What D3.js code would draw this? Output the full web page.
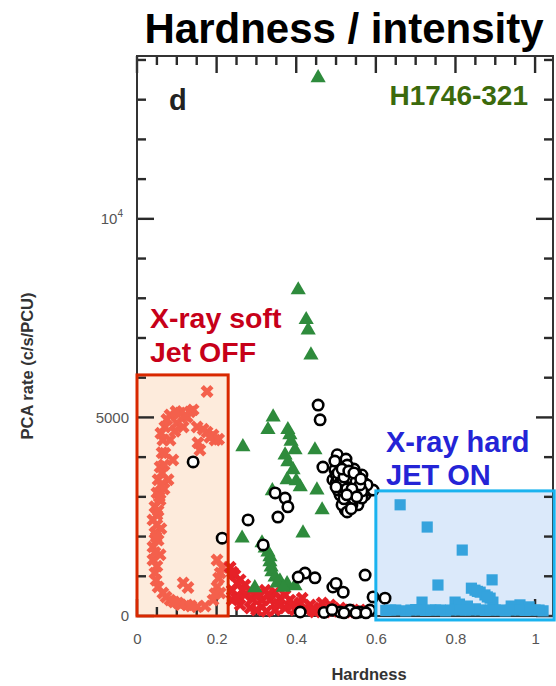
<!DOCTYPE html>
<html>
<head>
<meta charset="utf-8">
<title>Hardness / intensity</title>
<script src="https://cdn.jsdelivr.net/npm/d3@7"></script>
<style>
  body { margin: 0; background: #fff; font-family: "Liberation Sans", Arial, sans-serif; }
</style>
</head>
<body>
<div id="chart"></div>
<script>
// [hardness, PCA rate]
const softState = [
  [0.176, 5650], [0.141, 5190], [0.083, 5060], [0.108, 5110], [0.133, 5140],
  [0.151, 4760], [0.176, 4630], [0.191, 4560], [0.196, 4430], [0.070, 4760],
  [0.065, 4430], [0.063, 4110], [0.058, 3750], [0.053, 3430], [0.050, 3100],
  [0.045, 2750], [0.040, 2420], [0.045, 2090], [0.040, 1740], [0.040, 1410],
  [0.045, 1080], [0.053, 730], [0.065, 580], [0.083, 400], [0.103, 330],
  [0.126, 280], [0.151, 230], [0.116, 830], [0.158, 4180], [0.153, 4360],
  [0.083, 4430], [0.090, 3930], [0.078, 3430], [0.100, 4860], [0.116, 4760],
  [0.126, 5010], [0.201, 1410], [0.209, 1080], [0.201, 730], [0.191, 400],
  [0.209, 580], [0.214, 1230], [0.058, 2920], [0.050, 2540], [0.053, 1910],
  [0.058, 1540], [0.068, 3200], [0.060, 2200], [0.095, 4650], [0.110, 280],
  [0.075, 4950], [0.070, 4100], [0.068, 3800], [0.063, 3600], [0.060, 3300],
  [0.056, 3000], [0.053, 2650], [0.050, 2300], [0.048, 1990], [0.045, 1600],
  [0.050, 1250], [0.048, 900], [0.073, 480], [0.093, 350], [0.136, 250],
  [0.120, 5050], [0.166, 4700], [0.183, 4500], [0.205, 4450], [0.205, 950],
  [0.196, 560], [0.171, 250], [0.128, 720], [0.060, 4600], [0.098, 5150]
];
const intermediateSoft = [
  [0.234, 1230], [0.246, 1030], [0.259, 910], [0.271, 780], [0.284, 650],
  [0.296, 530], [0.314, 400], [0.334, 400], [0.359, 450], [0.384, 400],
  [0.410, 330], [0.435, 280], [0.460, 200], [0.485, 280], [0.510, 200],
  [0.535, 150], [0.560, 150], [0.239, 650], [0.239, 400], [0.259, 280],
  [0.284, 200], [0.314, 230], [0.347, 150], [0.372, 200], [0.397, 150],
  [0.422, 200], [0.447, 100], [0.472, 100], [0.497, 150], [0.523, 100],
  [0.548, 100], [0.322, 650], [0.347, 600], [0.372, 530], [0.271, 530],
  [0.240, 1100], [0.252, 820], [0.265, 650], [0.290, 430], [0.305, 550],
  [0.330, 550], [0.355, 300], [0.390, 270], [0.415, 450], [0.440, 150],
  [0.465, 330], [0.490, 120], [0.250, 450], [0.300, 150], [0.325, 120]
];
const intermediateHard = [
  [0.455, 13550], [0.405, 8210], [0.425, 7460], [0.430, 7200], [0.437, 6570],
  [0.342, 5010], [0.329, 4690], [0.379, 4690], [0.384, 4560], [0.266, 4260],
  [0.397, 4180], [0.447, 4180], [0.379, 3880], [0.392, 3680], [0.377, 3430],
  [0.410, 3250], [0.452, 3170], [0.465, 2670], [0.264, 1960], [0.417, 2090],
  [0.314, 1840], [0.322, 1710], [0.329, 1610], [0.334, 1490], [0.334, 1360],
  [0.337, 1230], [0.339, 1110], [0.347, 980], [0.359, 880], [0.377, 810],
  [0.397, 760], [0.296, 710], [0.387, 4400], [0.372, 4050], [0.400, 3400],
  [0.352, 830], [0.368, 720], [0.340, 3150]
];
const otherEpochs = [
  [0.455, 5310], [0.460, 4940], [0.503, 4060], [0.467, 3750], [0.518, 3850],
  [0.497, 3680], [0.510, 3480], [0.523, 3300], [0.535, 3170], [0.548, 3430],
  [0.560, 3220], [0.530, 2920], [0.540, 3050], [0.510, 3050], [0.573, 3050],
  [0.555, 2800], [0.523, 2670], [0.505, 3170], [0.535, 3680], [0.492, 3430],
  [0.565, 3550], [0.585, 3170], [0.515, 2800], [0.347, 3100], [0.372, 2970],
  [0.379, 2750], [0.354, 2490], [0.279, 2420], [0.528, 2620], [0.565, 2970],
  [0.593, 3170], [0.422, 1080], [0.447, 960], [0.573, 1030], [0.492, 730],
  [0.518, 600], [0.593, 480], [0.623, 450], [0.141, 3880], [0.214, 1960],
  [0.317, 1790], [0.405, 980], [0.510, 100], [0.535, 150], [0.560, 100],
  [0.585, 150], [0.410, 100], [0.540, 3400], [0.520, 3600], [0.528, 3550],
  [0.545, 3300], [0.553, 3100], [0.518, 3150], [0.500, 3350], [0.512, 3750],
  [0.550, 3580], [0.570, 3350], [0.540, 2800], [0.500, 3550], [0.497, 3900],
  [0.525, 3950], [0.578, 3300], [0.545, 3700], [0.500, 820], [0.520, 80],
  [0.550, 80], [0.575, 80], [0.470, 90], [0.490, 160],
  [0.505, 3450], [0.515, 3250], [0.525, 3450], [0.535, 3350], [0.545, 3500],
  [0.555, 3250], [0.530, 3100], [0.520, 2950], [0.545, 2950], [0.558, 3400],
  [0.512, 3600], [0.535, 3550], [0.525, 3700], [0.505, 3600], [0.532, 3250],
  [0.548, 3150], [0.510, 3350], [0.565, 3150], [0.538, 2700], [0.528, 3800],
  [0.507, 3300], [0.517, 3400], [0.527, 3200], [0.537, 3480], [0.550, 3380],
  [0.560, 3300], [0.520, 3500], [0.540, 3200], [0.552, 3000], [0.515, 3700],
  [0.532, 3650], [0.545, 3600], [0.500, 3250], [0.527, 3050], [0.562, 3450]
];
const hardState = [
  [0.661, 2800], [0.729, 2240], [0.817, 1660], [0.892, 910], [0.756, 780],
  [0.716, 350], [0.849, 650], [0.862, 600], [0.874, 530], [0.887, 450],
  [0.894, 350], [0.799, 350], [0.962, 280], [0.625, 140], [0.650, 150],
  [0.675, 130], [0.700, 160], [0.725, 140], [0.750, 150], [0.775, 130],
  [0.800, 170], [0.825, 150], [0.850, 180], [0.875, 140], [0.900, 150],
  [0.925, 130], [0.950, 160], [0.975, 140], [1.000, 150], [1.020, 130],
  [0.840, 700], [0.855, 620], [0.880, 480], [0.810, 300], [0.830, 250],
  [0.940, 250], [0.985, 230], [0.637, 150], [0.688, 150], [0.712, 150],
  [0.738, 150], [0.762, 150], [0.788, 150], [0.812, 150], [0.838, 150],
  [0.862, 150], [0.888, 150], [0.912, 150], [0.938, 150], [0.962, 150],
  [0.988, 150], [1.010, 150]
];
// boxes: [h0, h1, r0, r1]
const softBox = [0, 0.229, 0, 6070];
const hardBox = [0.600, 1.048, -100, 3150];

const xMajor = [0, 0.2, 0.4, 0.6, 0.8, 1];
const xMinor = [0.05, 0.1, 0.15, 0.25, 0.3, 0.35, 0.45, 0.5, 0.55, 0.65, 0.7, 0.75, 0.85, 0.9, 0.95];
const yMajor = [0, 5000, 10000];
const yMinor = [1000, 2000, 3000, 4000, 6000, 7000, 8000, 9000, 11000, 12000, 13000, 14000];

const width = 556, height = 686;
const margin = { top: 56, right: 3, bottom: 70, left: 137 };

const svg = d3.select("#chart").append("svg")
  .attr("width", width).attr("height", height);

const x = d3.scaleLinear().domain([0, 1.045]).range([margin.left, width - margin.right]);
const y = d3.scaleLinear().domain([0, 14100]).range([height - margin.bottom, margin.top]);

function boxRect(g, b) {
  return g.append("rect")
    .attr("x", x(b[0])).attr("y", y(b[3]))
    .attr("width", x(b[1]) - x(b[0])).attr("height", y(b[2]) - y(b[3]));
}

function styleAxis(g) {
  g.select(".domain").remove();
  g.selectAll(".tick line").remove();
  g.selectAll(".tick text").attr("fill", "#555").attr("font-size", 15)
    .attr("font-family", "'Liberation Sans', Arial, sans-serif");
}

// box fills behind everything
boxRect(svg, softBox).attr("fill", "#fdebdc");
boxRect(svg, hardBox).attr("fill", "#dbe9fa");

const yBottom = y(0), yTop = y(14100), xLeft = x(0), xRight = x(1.045);

// tick marks as small filled bars, pointing inward on all four sides
const tw = 2.4;
const xTicks = [
  ...xMajor.map(v => ({ v, len: 17 })),
  ...xMinor.map(v => ({ v, len: 9 }))
];
const yTicks = [
  ...yMajor.map(v => ({ v, len: 17 })),
  ...yMinor.map(v => ({ v, len: 9 }))
];
const tickG = svg.append("g").attr("fill", "#2a2a2a");
tickG.selectAll("rect.xb").data(xTicks).join("rect").attr("class", "xb")
  .attr("x", d => x(d.v) - tw / 2).attr("y", d => yBottom - d.len)
  .attr("width", tw).attr("height", d => d.len);
tickG.selectAll("rect.xt").data(xTicks).join("rect").attr("class", "xt")
  .attr("x", d => x(d.v) - tw / 2).attr("y", yTop)
  .attr("width", tw).attr("height", d => d.len);
tickG.selectAll("rect.yl").data(yTicks).join("rect").attr("class", "yl")
  .attr("x", xLeft).attr("y", d => y(d.v) - tw / 2)
  .attr("width", d => d.len).attr("height", tw);
tickG.selectAll("rect.yr").data(yTicks).join("rect").attr("class", "yr")
  .attr("x", d => xRight - d.len).attr("y", d => y(d.v) - tw / 2)
  .attr("width", d => d.len).attr("height", tw);

// tick labels
svg.append("g").attr("transform", `translate(0,${yBottom})`)
  .call(d3.axisBottom(x).tickValues(xMajor).tickSize(0).tickPadding(17)
    .tickFormat(d => d3.format("")(d)))
  .call(styleAxis);
const yAxis = svg.append("g").attr("transform", `translate(${xLeft},0)`)
  .call(d3.axisLeft(y).tickValues(yMajor).tickSize(0).tickPadding(8)
    .tickFormat(d => d === 10000 ? "10" : d))
  .call(styleAxis);
yAxis.selectAll(".tick").filter(d => d === 10000).select("text")
  .attr("dx", "-6px")
  .append("tspan").attr("dy", "-7").attr("font-size", "10px").text("4");

svg.append("rect")
  .attr("x", xLeft).attr("y", yTop)
  .attr("width", xRight - xLeft).attr("height", yBottom - yTop)
  .attr("fill", "none").attr("stroke", "#333").attr("stroke-width", 2);

// markers
const cross = d3.symbol(d3.symbolCross, 105);
const tri = d3.symbol(d3.symbolTriangle, 100);
const square = d3.symbol(d3.symbolSquare, 125);

svg.append("g").selectAll("path").data(softState).join("path")
  .attr("d", cross)
  .attr("transform", d => `translate(${x(d[0])},${y(d[1])}) rotate(45)`)
  .attr("fill", "#f4604c");

svg.append("g").selectAll("path").data(intermediateSoft).join("path")
  .attr("d", cross)
  .attr("transform", d => `translate(${x(d[0])},${y(d[1])}) rotate(45)`)
  .attr("fill", "#e62128");

svg.append("g").selectAll("path").data(intermediateHard).join("path")
  .attr("d", tri)
  .attr("transform", d => `translate(${x(d[0])},${y(d[1])})`)
  .attr("fill", "#2e8b3c");

svg.append("g").selectAll("circle").data(otherEpochs).join("circle")
  .attr("cx", d => x(d[0])).attr("cy", d => y(d[1])).attr("r", 5.2)
  .attr("fill", "#fff").attr("stroke", "#000").attr("stroke-width", 2.6);

svg.append("g").selectAll("path").data(hardState).join("path")
  .attr("d", square)
  .attr("transform", d => `translate(${x(d[0])},${y(d[1])})`)
  .attr("fill", "#35a3dd");

// box outlines on top
boxRect(svg, softBox).attr("fill", "none").attr("stroke", "#d92800").attr("stroke-width", 3);
boxRect(svg, hardBox).attr("fill", "none").attr("stroke", "#1ab3ef").attr("stroke-width", 3);

// texts
svg.append("text").attr("x", 344).attr("y", 43)
  .attr("text-anchor", "middle").attr("font-size", 42).attr("font-weight", "bold")
  .attr("fill", "#000").text("Hardness / intensity");

svg.append("text").attr("x", 169).attr("y", 110)
  .attr("font-size", 29).attr("font-weight", "bold").attr("fill", "#222").text("d");

svg.append("text").attr("x", 528).attr("y", 105).attr("text-anchor", "end")
  .attr("font-size", 28).attr("font-weight", "bold").attr("fill", "#3b6a0c").text("H1746-321");

svg.append("text").attr("x", 150).attr("y", 328)
  .attr("font-size", 28.5).attr("font-weight", "bold").attr("fill", "#c70019").text("X-ray soft");
svg.append("text").attr("x", 150).attr("y", 362)
  .attr("font-size", 28.5).attr("font-weight", "bold").attr("fill", "#c70019").text("Jet OFF");

svg.append("text").attr("x", 386).attr("y", 452)
  .attr("font-size", 29).attr("font-weight", "bold").attr("fill", "#2424d6").text("X-ray hard");
svg.append("text").attr("x", 386).attr("y", 485)
  .attr("font-size", 29).attr("font-weight", "bold").attr("fill", "#2424d6").text("JET ON");

svg.append("text")
  .attr("transform", `translate(33,366) rotate(-90)`)
  .attr("text-anchor", "middle").attr("font-size", 16.5).attr("font-weight", "bold")
  .attr("fill", "#333").text("PCA rate (c/s/PCU)");

svg.append("text").attr("x", 369).attr("y", 680)
  .attr("text-anchor", "middle").attr("font-size", 16.5).attr("font-weight", "bold")
  .attr("fill", "#333").text("Hardness");
</script>
</body>
</html>
